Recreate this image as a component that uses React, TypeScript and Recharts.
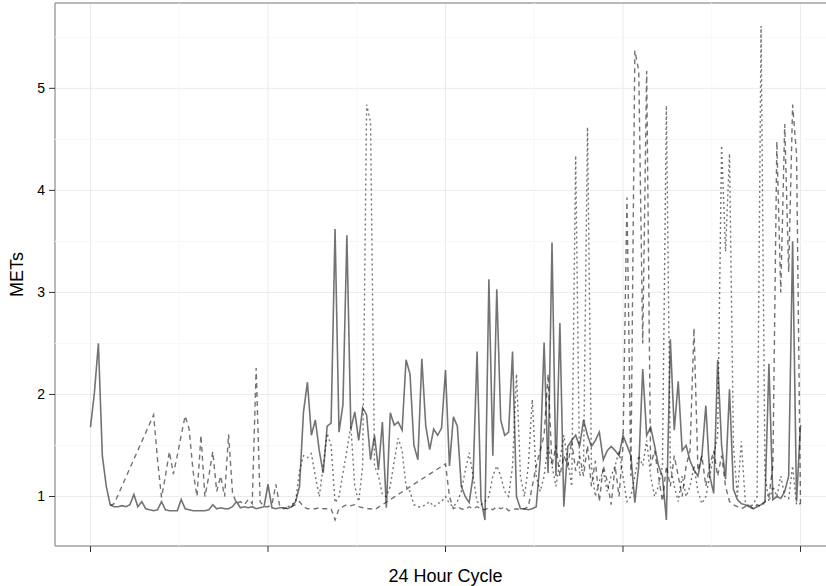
import React from 'react';
import { LineChart, Line, XAxis, YAxis, CartesianGrid, ReferenceLine, ReferenceArea } from 'recharts';

// time of day in minutes, one sample every 8 minutes
const minutes = [
  0, 8, 16, 24, 32, 40, 48, 56, 64, 72,
  80, 88, 96, 104, 112, 120, 128, 136, 144, 152,
  160, 168, 176, 184, 192, 200, 208, 216, 224, 232,
  240, 248, 256, 264, 272, 280, 288, 296, 304, 312,
  320, 328, 336, 344, 352, 360, 368, 376, 384, 392,
  400, 408, 416, 424, 432, 440, 448, 456, 464, 472,
  480, 488, 496, 504, 512, 520, 528, 536, 544, 552,
  560, 568, 576, 584, 592, 600, 608, 616, 624, 632,
  640, 648, 656, 664, 672, 680, 688, 696, 704, 712,
  720, 728, 736, 744, 752, 760, 768, 776, 784, 792,
  800, 808, 816, 824, 832, 840, 848, 856, 864, 872,
  880, 888, 896, 904, 912, 920, 928, 936, 944, 952,
  960, 968, 976, 984, 992, 1000, 1008, 1016, 1024, 1032,
  1040, 1048, 1056, 1064, 1072, 1080, 1088, 1096, 1104, 1112,
  1120, 1128, 1136, 1144, 1152, 1160, 1168, 1176, 1184, 1192,
  1200, 1208, 1216, 1224, 1232, 1240, 1248, 1256, 1264, 1272,
  1280, 1288, 1296, 1304, 1312, 1320, 1328, 1336, 1344, 1352,
  1360, 1368, 1376, 1384, 1392, 1400, 1408, 1416, 1424, 1432,
  1440,
];

const solidMets = [
  1.68, 2.02, 2.5, 1.4, 1.1, 0.92, 0.9, 0.9, 0.91, 0.9,
  0.92, 1.02, 0.9, 0.95, 0.88, 0.87, 0.86, 0.87, 0.95, 0.87,
  0.86, 0.86, 0.86, 0.97, 0.88, 0.87, 0.86, 0.86, 0.86, 0.86,
  0.87, 0.92, 0.88, 0.89, 0.88, 0.88, 0.9, 0.95, 0.89, 0.9,
  0.89, 0.9, 0.88, 0.89, 0.9, 1.12, 0.89, 0.88, 0.89, 0.89,
  0.88, 0.9, 0.95, 1.1, 1.83, 2.12, 1.6, 1.75, 1.45, 1.23,
  1.69, 1.72, 3.62, 1.63, 1.9, 3.56, 1.66, 1.83, 1.55, 1.87,
  1.8, 1.36, 1.6, 1.26, 1.73, 0.89, 1.82, 1.7, 1.73, 1.65,
  2.34, 2.2, 1.5, 1.36, 2.35, 1.69, 1.46, 1.66, 1.6, 1.67,
  2.24, 1.3, 1.78, 1.69, 1.1, 1.0, 0.94, 1.2, 2.42, 0.97,
  0.77, 3.13, 1.4, 3.03, 1.75, 1.6, 1.63, 2.42, 1.0, 0.88,
  0.88, 0.87, 0.88, 0.9, 1.36, 2.51, 1.23, 3.49, 1.2, 2.7,
  0.9, 1.49, 1.55, 1.6, 1.49, 1.75, 1.6, 1.49, 1.55, 1.63,
  1.36, 1.45, 1.49, 1.45, 1.4, 1.6, 1.5, 1.4, 0.94, 1.3,
  2.25, 1.6, 1.68, 1.5, 1.3, 1.2, 0.77, 2.54, 1.65, 2.13,
  1.45, 1.5, 1.35, 1.26, 1.2, 1.4, 1.89, 1.2, 1.03, 2.34,
  1.5, 1.17, 2.05, 1.07, 0.97, 0.93, 0.92, 0.9, 0.88, 0.9,
  0.92, 0.95, 2.3, 0.97, 1.0, 0.98, 1.05, 1.2, 3.5, 0.95,
  1.7,
];

const dashedMets = [
  null, null, null, null, null, 0.91, 0.93, null, null, null,
  null, null, null, null, null, null, 1.8, 1.36, 0.99, 1.2,
  1.44, 1.22, 1.4, 1.6, 1.79, 1.66, 1.25, 1.0, 1.6, 1.0,
  1.2, 1.44, 1.05, 1.2, 1.0, 1.61, 1.04, 0.93, 0.95, 0.92,
  0.97, 0.93, 2.26, 0.95, 0.9, 0.9, 0.92, 1.12, 0.9, 0.88,
  0.89, 0.9, 0.92, 0.95, 0.9, 0.88, 0.88, 0.88, 0.89, 0.88,
  0.88, 0.88, 0.77, 0.88, 0.9, 0.92, 0.91, 0.92, 0.9, 0.89,
  0.88, 0.88, 0.87, null, null, null, null, null, null, null,
  null, null, null, null, null, null, null, null, null, null,
  1.32, 1.0, 0.88, 0.9, 0.88, 0.87, 0.9, 0.88, 0.9, 0.88,
  0.87, 0.89, 0.87, 0.9, 0.88, 0.9, 0.86, 0.87, 0.88, 0.87,
  0.88, 0.9, 1.1, 1.3, 1.45, 1.6, 2.2, 1.3, 1.5, 1.2,
  1.4, 1.3, 1.55, 1.25, 1.4, 1.2, 1.5, 1.1, 1.35, 0.95,
  1.3, 1.15, 0.92, 1.3, 1.0, 1.5, 3.93, 1.2, 5.37, 5.17,
  2.5, 5.17, 1.3, 1.45, 1.2, 0.95, 1.3, 1.1, 1.4, 1.2,
  1.0, 1.3, 1.45, 2.65, 1.25, 1.4, 1.1, 1.3, 1.45, 1.2,
  1.4, 1.1, 0.95, 0.92, 0.9, 0.88, 0.9, 0.92, 0.88, 0.92,
  0.9, 0.95, 1.0, 1.3, 4.48, 3.0, 4.65, 3.2, 4.84, 4.35,
  0.93,
];

const dottedMets = [
  null, null, null, null, null, null, null, null, null, null,
  null, null, null, null, null, null, null, null, null, null,
  null, null, null, null, null, null, null, null, null, null,
  null, null, null, null, null, null, null, null, null, null,
  null, null, null, null, null, null, null, null, null, null,
  0.9, 0.92, 0.95, 1.25, 1.4, 1.38, 1.42, 1.2, 1.0, 1.3,
  1.62, 1.5, 0.94, 1.0, 1.23, 1.45, 1.69, 1.1, 0.95, 1.3,
  4.84, 4.67, 1.3, 1.2, 1.02, 1.0, 1.1, 1.35, 1.57, 1.45,
  1.1, 1.05, 0.92, 0.9, 0.9, 0.92, 0.95, 0.9, 0.93, 0.95,
  1.0, 0.93, 0.9, 0.95, 1.05, 1.25, 1.43, 1.2, 0.95, 0.92,
  0.95, 1.0, 1.2, 1.3, 1.2, 1.05, 1.0, 1.3, 2.2, 1.2,
  1.0, 1.3, 1.95, 1.2, 1.05, 1.2, 1.5, 1.3, 1.1, 1.35,
  1.6, 1.35, 1.1, 4.34, 1.2, 1.3, 4.62, 1.3, 1.0, 1.15,
  1.25, 1.05, 1.2, 1.3, 1.45, 1.2, 0.95, 1.0, 1.2, 1.4,
  1.3, 1.55, 1.2, 1.0, 1.1, 1.3, 4.83, 1.3, 1.1, 0.95,
  1.2, 1.0, 1.1, 1.3, 1.05, 0.93, 1.0, 1.2, 1.4, 1.6,
  4.44, 3.4, 4.36, 1.5, 1.0, 1.54, 0.95, 0.9, 0.92, 1.0,
  5.61, 1.2, 0.95, 1.1, 1.0, 1.2, 1.0, 0.98, 1.3, 0.92,
  0.93,
];

const xTicks = [0, 360, 720, 1080, 1440];
const xMinor = [180, 540, 900, 1260];
const yTicks = [1, 2, 3, 4, 5];
const yMinor = [1.5, 2.5, 3.5, 4.5, 5.5];

const X_DOMAIN: [number, number] = [-72, 1512];
const Y_DOMAIN: [number, number] = [0.515, 5.836];

const data = minutes.map((t, i) => ({
  t,
  solid: solidMets[i],
  dashed: dashedMets[i],
  dotted: dottedMets[i],
}));

const font = '"Liberation Sans", Arial, sans-serif';

export default function App() {
  return (
    <div
      style={{
        position: 'fixed',
        left: 0,
        top: 0,
        width: 826,
        height: 586,
        overflow: 'hidden',
        background: '#fff',
        fontFamily: font,
      }}
    >
      <LineChart width={850} height={586} data={data} margin={{ top: 3, right: 14, bottom: 0, left: 0 }}>
        <CartesianGrid stroke="#ebebeb" strokeWidth={1} />
        {yMinor.map((v) => (
          <ReferenceLine key={'y' + v} y={v} stroke="#f7f7f7" strokeWidth={1} />
        ))}
        {xMinor.map((v) => (
          <ReferenceLine key={'x' + v} x={v} stroke="#f7f7f7" strokeWidth={1} />
        ))}
        <XAxis
          dataKey="t"
          type="number"
          domain={X_DOMAIN}
          ticks={xTicks}
          tickFormatter={() => ''}
          allowDataOverflow
          height={40}
          axisLine={false}
          tickSize={6}
          tickLine={{ stroke: '#333', strokeWidth: 1 }}
          label={{ value: '24 Hour Cycle', position: 'insideBottom', offset: 4, style: { fontSize: 18, fill: '#000', fontFamily: font } }}
        />
        <YAxis
          type="number"
          domain={Y_DOMAIN}
          ticks={yTicks}
          allowDataOverflow
          width={55}
          axisLine={false}
          tickSize={6}
          tickMargin={4}
          tickLine={{ stroke: '#333', strokeWidth: 1 }}
          tick={{ fontSize: 14, fill: '#000', fontFamily: font }}
          label={{ value: 'METs', angle: -90, position: 'insideLeft', offset: 17, style: { fontSize: 18, fill: '#000', fontFamily: font, textAnchor: 'middle' } }}
        />
        <ReferenceArea x1={X_DOMAIN[0]} x2={X_DOMAIN[1]} y1={Y_DOMAIN[0]} y2={Y_DOMAIN[1]} fill="none" stroke="#7f7f7f" strokeWidth={1} />
        <Line dataKey="dashed" type="linear" stroke="#000" strokeOpacity={0.55} strokeWidth={1.4} strokeDasharray="5 4" dot={false} activeDot={false} connectNulls isAnimationActive={false} />
        <Line dataKey="dotted" type="linear" stroke="#000" strokeOpacity={0.55} strokeWidth={1.4} strokeDasharray="2 3" dot={false} activeDot={false} connectNulls isAnimationActive={false} />
        <Line dataKey="solid" type="linear" stroke="#000" strokeOpacity={0.55} strokeWidth={1.6} dot={false} activeDot={false} isAnimationActive={false} />
      </LineChart>
    </div>
  );
}
